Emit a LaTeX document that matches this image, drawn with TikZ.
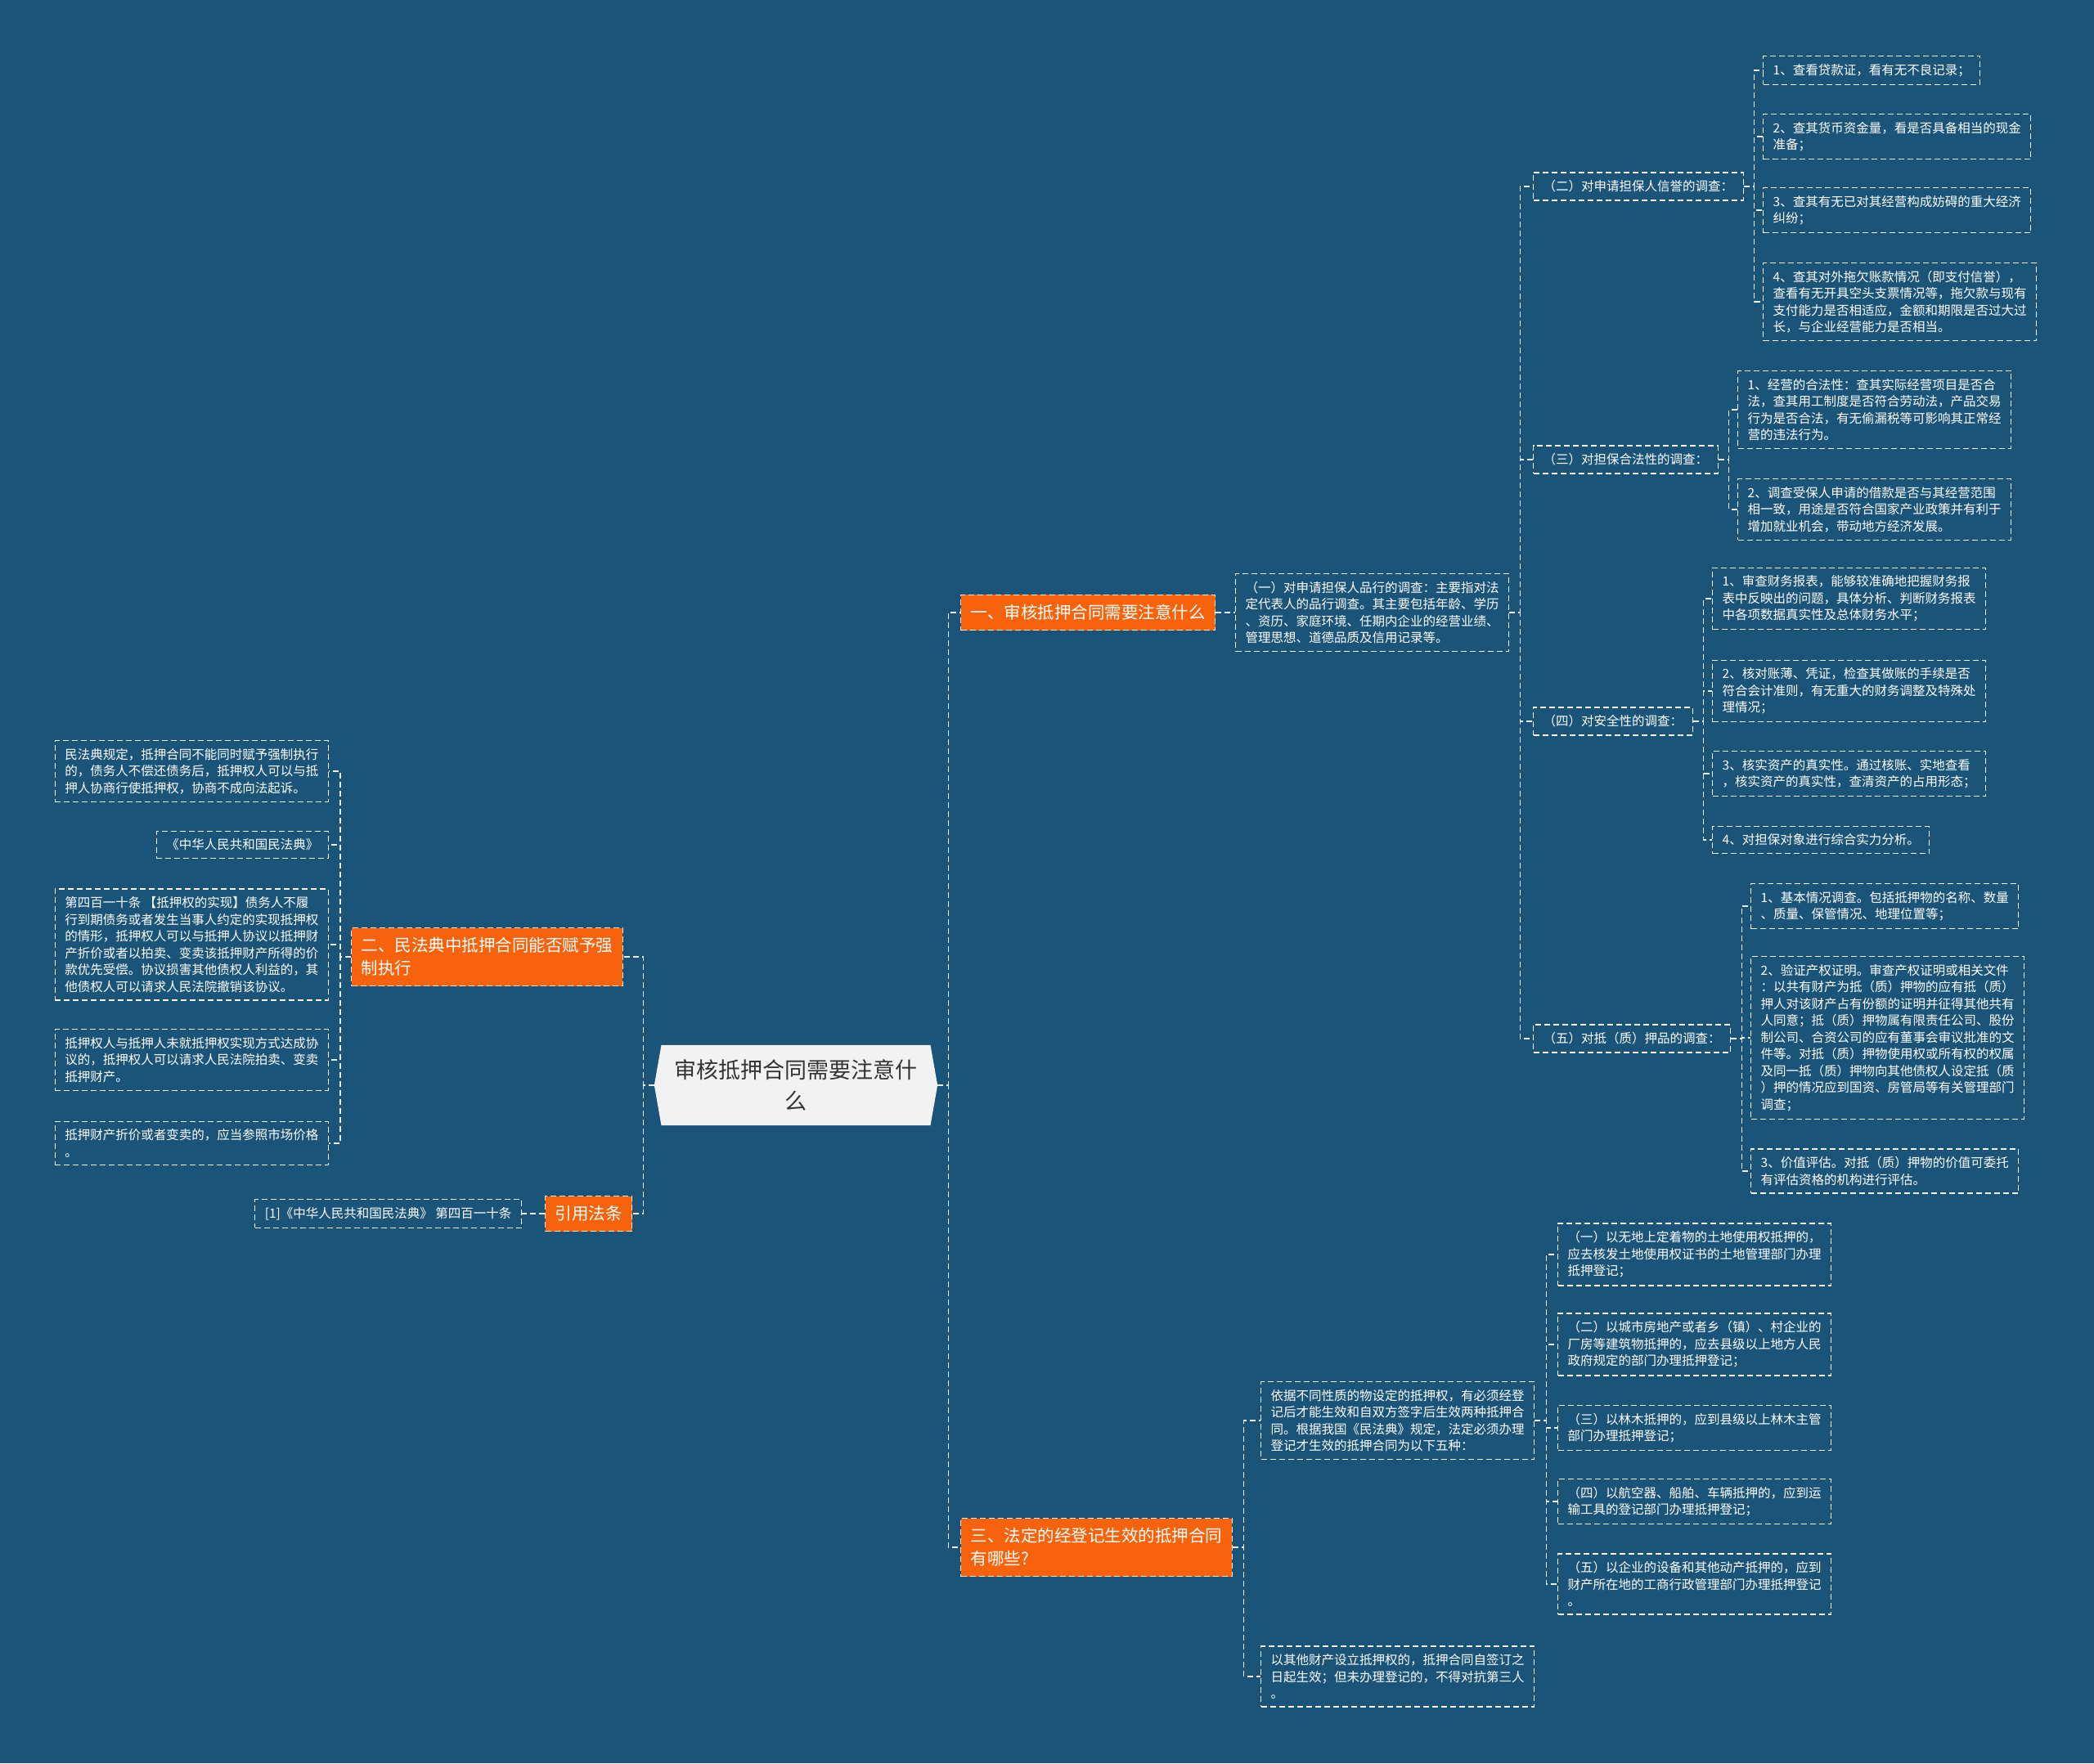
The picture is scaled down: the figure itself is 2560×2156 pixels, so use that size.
\documentclass[tikz,border=0pt]{standalone}
\usepackage{fontspec}
\setmainfont{Noto Sans CJK SC}
\usetikzlibrary{shapes.symbols}
\definecolor{bgblue}{RGB}{26,84,121}
\definecolor{topicorange}{RGB}{247,99,12}
\definecolor{rootgray}{RGB}{242,242,242}

\begin{document}
\begin{tikzpicture}[x=1pt,y=-1pt,
  leafbox/.style={draw=white,dash pattern=on 7pt off 4pt,line width=1.3pt,text=white,
    align=left,inner xsep=12pt,inner ysep=9.5pt,font=\fontsize{15.5}{20.5}\selectfont},
  topicbox/.style={fill=topicorange,draw=white!85!topicorange,dash pattern=on 7pt off 4pt,
    line width=1.3pt,text=white,align=left,inner xsep=12pt,inner ysep=12pt,
    font=\fontsize{20.5}{28}\selectfont},
  rootbox/.style={signal,signal to=west and east,signal pointer angle=160,fill=rootgray,
    text=black!80,align=center,inner xsep=16pt,inner ysep=18pt,
    font=\fontsize{27}{37.5}\selectfont},
  link/.style={draw=white!92!bgblue,dash pattern=on 7pt off 4pt,line width=1.3pt}]
\useasboundingbox (0,0) rectangle (2560,2156);
\fill[bgblue] (0,0) rectangle (2560,2156);

\node[rootbox] (root) at (973,1327) {审核抵押合同需要注意什\\么};

\node[topicbox,anchor=west] (br1) at (1174,749) {一、审核抵押合同需要注意什么};
\node[topicbox,anchor=west] (br3) at (1174,1892) {三、法定的经登记生效的抵押合同\\有哪些?};
\node[topicbox,anchor=west] (br2) at (429,1170) {二、民法典中抵押合同能否赋予强\\制执行};
\node[topicbox,anchor=west] (br4) at (666,1484) {引用法条};

% right: first branch
\node[leafbox,anchor=west] (q1) at (1510,749) {（一）对申请担保人品行的调查：主要指对法\\定代表人的品行调查。其主要包括年龄、学历\\、资历、家庭环境、任期内企业的经营业绩、\\管理思想、道德品质及信用记录等。};
\node[leafbox,anchor=west] (q2) at (1874,228) {（二）对申请担保人信誉的调查：};
\node[leafbox,anchor=west] (q3) at (1874,562) {（三）对担保合法性的调查：};
\node[leafbox,anchor=west] (q4) at (1874,882) {（四）对安全性的调查：};
\node[leafbox,anchor=west] (q5) at (1874,1270) {（五）对抵（质）押品的调查：};

\node[leafbox,anchor=west] (q2a) at (2155,86) {1、查看贷款证，看有无不良记录；};
\node[leafbox,anchor=west] (q2b) at (2155,167) {2、查其货币资金量，看是否具备相当的现金\\准备；};
\node[leafbox,anchor=west] (q2c) at (2155,257) {3、查其有无已对其经营构成妨碍的重大经济\\纠纷；};
\node[leafbox,anchor=west] (q2d) at (2155,369) {4、查其对外拖欠账款情况（即支付信誉），\\查看有无开具空头支票情况等，拖欠款与现有\\支付能力是否相适应，金额和期限是否过大过\\长，与企业经营能力是否相当。};

\node[leafbox,anchor=west] (q3a) at (2124,501) {1、经营的合法性：查其实际经营项目是否合\\法，查其用工制度是否符合劳动法，产品交易\\行为是否合法，有无偷漏税等可影响其正常经\\营的违法行为。};
\node[leafbox,anchor=west] (q3b) at (2124,623) {2、调查受保人申请的借款是否与其经营范围\\相一致，用途是否符合国家产业政策并有利于\\增加就业机会，带动地方经济发展。};

\node[leafbox,anchor=west] (q4a) at (2093,732) {1、审查财务报表，能够较准确地把握财务报\\表中反映出的问题，具体分析、判断财务报表\\中各项数据真实性及总体财务水平；};
\node[leafbox,anchor=west] (q4b) at (2093,845) {2、核对账薄、凭证，检查其做账的手续是否\\符合会计准则，有无重大的财务调整及特殊处\\理情况；};
\node[leafbox,anchor=west] (q4c) at (2093,946) {3、核实资产的真实性。通过核账、实地查看\\，核实资产的真实性，查清资产的占用形态；};
\node[leafbox,anchor=west] (q4d) at (2093,1027) {4、对担保对象进行综合实力分析。};

\node[leafbox,anchor=west] (q5a) at (2140,1108) {1、基本情况调查。包括抵押物的名称、数量\\、质量、保管情况、地理位置等；};
\node[leafbox,anchor=west] (q5b) at (2140,1269) {2、验证产权证明。审查产权证明或相关文件\\：以共有财产为抵（质）押物的应有抵（质）\\押人对该财产占有份额的证明并征得其他共有\\人同意；抵（质）押物属有限责任公司、股份\\制公司、合资公司的应有董事会审议批准的文\\件等。对抵（质）押物使用权或所有权的权属\\及同一抵（质）押物向其他债权人设定抵（质\\）押的情况应到国资、房管局等有关管理部门\\调查；};
\node[leafbox,anchor=west] (q5c) at (2140,1432) {3、价值评估。对抵（质）押物的价值可委托\\有评估资格的机构进行评估。};

% right: third branch
\node[leafbox,anchor=west] (d1) at (1541,1737) {依据不同性质的物设定的抵押权，有必须经登\\记后才能生效和自双方签字后生效两种抵押合\\同。根据我国《民法典》规定，法定必须办理\\登记才生效的抵押合同为以下五种：};
\node[leafbox,anchor=west] (d2) at (1541,2050) {以其他财产设立抵押权的，抵押合同自签订之\\日起生效；但未办理登记的，不得对抗第三人\\。};
\node[leafbox,anchor=west] (e1) at (1904,1534) {（一）以无地上定着物的土地使用权抵押的，\\应去核发土地使用权证书的土地管理部门办理\\抵押登记；};
\node[leafbox,anchor=west] (e2) at (1904,1644) {（二）以城市房地产或者乡（镇）、村企业的\\厂房等建筑物抵押的，应去县级以上地方人民\\政府规定的部门办理抵押登记；};
\node[leafbox,anchor=west] (e3) at (1904,1746) {（三）以林木抵押的，应到县级以上林木主管\\部门办理抵押登记；};
\node[leafbox,anchor=west] (e4) at (1904,1836) {（四）以航空器、船舶、车辆抵押的，应到运\\输工具的登记部门办理抵押登记；};
\node[leafbox,anchor=west] (e5) at (1904,1937) {（五）以企业的设备和其他动产抵押的，应到\\财产所在地的工商行政管理部门办理抵押登记\\。};

% left side
\node[leafbox,anchor=east] (f1) at (402,943) {民法典规定，抵押合同不能同时赋予强制执行\\的，债务人不偿还债务后，抵押权人可以与抵\\押人协商行使抵押权，协商不成向法起诉。};
\node[leafbox,anchor=east] (f2) at (402,1033) {《中华人民共和国民法典》};
\node[leafbox,anchor=east] (f3) at (402,1155) {第四百一十条 【抵押权的实现】债务人不履\\行到期债务或者发生当事人约定的实现抵押权\\的情形，抵押权人可以与抵押人协议以抵押财\\产折价或者以拍卖、变卖该抵押财产所得的价\\款优先受偿。协议损害其他债权人利益的，其\\他债权人可以请求人民法院撤销该协议。};
\node[leafbox,anchor=east] (f4) at (402,1296) {抵押权人与抵押人未就抵押权实现方式达成协\\议的，抵押权人可以请求人民法院拍卖、变卖\\抵押财产。};
\node[leafbox,anchor=east] (f5) at (402,1398) {抵押财产折价或者变卖的，应当参照市场价格\\。};
\node[leafbox,anchor=east] (g1) at (638,1484) {[1]《中华人民共和国民法典》 第四百一十条};

\foreach \b in {br1,br3}
  \draw[link] (root.east) -- ++(13,0) |- (\b.west);
\foreach \b in {br2,br4}
  \draw[link] (root.west) -- ++(-13,0) |- (\b.east);
\draw[link] (br1.east) -- (q1.west);
\foreach \c in {q2,q3,q4,q5}
  \draw[link] (q1.east) -- ++(13,0) |- (\c.west);
\foreach \c in {q2a,q2b,q2c,q2d}
  \draw[link] (q2.east) -- ++(13,0) |- (\c.west);
\foreach \c in {q3a,q3b}
  \draw[link] (q3.east) -- ++(13,0) |- (\c.west);
\foreach \c in {q4a,q4b,q4c,q4d}
  \draw[link] (q4.east) -- ++(13,0) |- (\c.west);
\foreach \c in {q5a,q5b,q5c}
  \draw[link] (q5.east) -- ++(13,0) |- (\c.west);
\foreach \c in {d1,d2}
  \draw[link] (br3.east) -- ++(14,0) |- (\c.west);
\foreach \c in {e1,e2,e3,e4,e5}
  \draw[link] (d1.east) -- ++(14,0) |- (\c.west);
\foreach \c in {f1,f2,f3,f4,f5}
  \draw[link] (br2.west) -- ++(-13,0) |- (\c.east);
\draw[link] (br4.west) -- (g1.east);
\end{tikzpicture}
\end{document}
